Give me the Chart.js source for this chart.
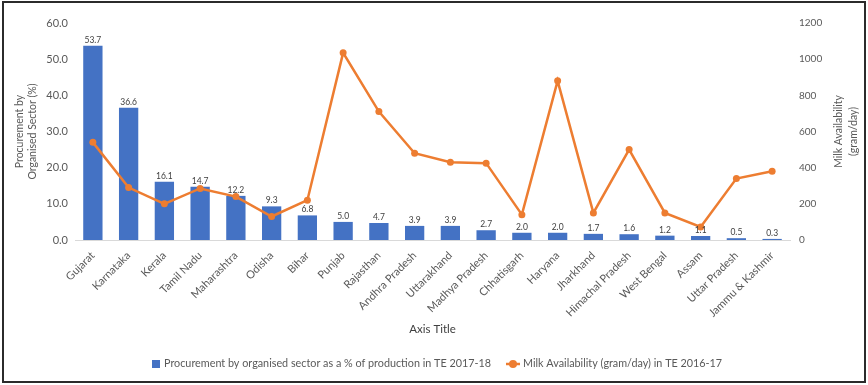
<!DOCTYPE html>
<html>
<head>
<meta charset="utf-8">
<script src="https://cdn.jsdelivr.net/npm/chart.js@4.4.1/dist/chart.umd.min.js"></script>
<style>
  html, body { margin: 0; padding: 0; background: #ffffff; }
  #wrap { position: relative; width: 868px; height: 385px; }
</style>
</head>
<body>
<div id="wrap"><canvas id="chart" width="868" height="385"></canvas></div>
<script>
// States, ordered by share of milk procured by the organised sector
const states = [
  'Gujarat', 'Karnataka', 'Kerala', 'Tamil Nadu', 'Maharashtra', 'Odisha', 'Bihar',
  'Punjab', 'Rajasthan', 'Andhra Pradesh', 'Uttarakhand', 'Madhya Pradesh',
  'Chhatisgarh', 'Haryana', 'Jharkhand', 'Himachal Pradesh', 'West Bengal',
  'Assam', 'Uttar Pradesh', 'Jammu & Kashmir'
];

// Procurement by organised sector as % of production, TE 2017-18
const procurementPct = [
  53.7, 36.6, 16.1, 14.7, 12.2, 9.3, 6.8, 5.0, 4.7, 3.9,
  3.9, 2.7, 2.0, 2.0, 1.7, 1.6, 1.2, 1.1, 0.5, 0.3
];

// Per-capita milk availability (gram/day), TE 2016-17
const milkAvailability = [
  540, 290, 200, 285, 240, 130, 220, 1035, 710, 480,
  430, 425, 140, 880, 150, 500, 150, 72, 340, 380
];

const leftTicks = [0, 10, 20, 30, 40, 50, 60];
const rightTicks = [0, 200, 400, 600, 800, 1000, 1200];

const leftTitle = ['Procurement by', 'Organised Sector (%)'];
const rightTitle = ['Milk Availability', '(gram/day)'];
const xTitle = 'Axis Title';
const seriesNames = [
  'Procurement by organised sector as a % of production in TE 2017-18',
  'Milk Availability (gram/day) in TE 2016-17'
];

const FONT = 'Lato, "Open Sans", sans-serif';
const GREY = '#595959';
const BLUE = '#4472C4';
const ORANGE = '#ED7D31';

// Value labels above each bar
const barLabels = {
  id: 'barLabels',
  afterDatasetsDraw(chart) {
    const meta = chart.getDatasetMeta(0);
    const ctx = chart.ctx;
    ctx.save();
    ctx.font = '8.5px ' + FONT;
    ctx.fillStyle = '#404040';
    ctx.textAlign = 'center';
    ctx.textBaseline = 'bottom';
    meta.data.forEach((bar, i) => {
      ctx.fillText(procurementPct[i].toFixed(1), bar.x, bar.y - 1.5);
    });
    ctx.restore();
  }
};

// Legend row under the axis title: square for the bars, line-and-dot for the line
const legendRow = {
  id: 'legendRow',
  afterDraw(chart) {
    const ctx = chart.ctx;
    const datasets = chart.data.datasets;
    const y = 364;
    ctx.save();
    ctx.font = '10.8px ' + FONT;
    ctx.textBaseline = 'middle';
    ctx.textAlign = 'left';
    const w1 = ctx.measureText(datasets[0].label).width;
    const w2 = ctx.measureText(datasets[1].label).width;
    const total = 8 + 4 + w1 + 15 + 14 + 3 + w2;
    let x = Math.round(437.5 - total / 2);
    ctx.fillStyle = datasets[0].backgroundColor;
    ctx.fillRect(x, y - 4, 8, 8);
    x += 12;
    ctx.fillStyle = GREY;
    ctx.fillText(datasets[0].label, x, y);
    x += w1 + 15;
    ctx.strokeStyle = datasets[1].borderColor;
    ctx.lineWidth = 2.5;
    ctx.beginPath(); ctx.moveTo(x, y); ctx.lineTo(x + 14, y); ctx.stroke();
    ctx.fillStyle = datasets[1].borderColor;
    ctx.beginPath(); ctx.arc(x + 7, y, 4, 0, Math.PI * 2); ctx.fill();
    x += 17;
    ctx.fillStyle = GREY;
    ctx.fillText(datasets[1].label, x, y);
    ctx.restore();
  }
};

// Right-hand axis title, read bottom to top, plus the frame round the chart
const frame = {
  id: 'frame',
  afterDraw(chart) {
    const ctx = chart.ctx;
    const area = chart.chartArea;
    const cy = (area.top + area.bottom) / 2;
    ctx.save();
    ctx.font = '10.5px ' + FONT;
    ctx.fillStyle = GREY;
    ctx.textAlign = 'center';
    ctx.textBaseline = 'middle';
    rightTitle.forEach((line, i) => {
      ctx.save();
      ctx.translate(839 + i * 15, cy);
      ctx.rotate(-Math.PI / 2);
      ctx.fillText(line, 0, 0);
      ctx.restore();
    });
    ctx.strokeStyle = '#2b2b2b';
    ctx.lineWidth = 2;
    ctx.strokeRect(3, 2, 862, 380);
    ctx.restore();
  }
};

new Chart(document.getElementById('chart'), {
  type: 'bar',
  data: {
    labels: states,
    datasets: [
      {
        type: 'bar',
        label: seriesNames[0],
        data: procurementPct,
        backgroundColor: BLUE,
        borderWidth: 0,
        yAxisID: 'yLeft',
        categoryPercentage: 1.0,
        barPercentage: 0.54,
        order: 1
      },
      {
        type: 'line',
        label: seriesNames[1],
        data: milkAvailability,
        borderColor: ORANGE,
        backgroundColor: ORANGE,
        borderWidth: 2.5,
        pointRadius: 3.5,
        pointBackgroundColor: ORANGE,
        pointBorderWidth: 0,
        tension: 0,
        yAxisID: 'yRight',
        order: 0
      }
    ]
  },
  options: {
    responsive: false,
    animation: false,
    layout: { padding: { left: 8, right: 6, top: 23, bottom: 43 } },
    plugins: {
      tooltip: { enabled: false },
      legend: { display: false }
    },
    scales: {
      x: {
        grid: { display: false, drawTicks: false },
        border: { display: true, color: '#d9d9d9', width: 1 },
        ticks: {
          autoSkip: false,
          minRotation: 45,
          maxRotation: 45,
          padding: 9,
          color: GREY,
          font: { family: FONT, size: 11 }
        },
        title: {
          display: true,
          text: xTitle,
          color: '#404040',
          font: { family: FONT, size: 11.5 },
          padding: { top: 0, bottom: 6 }
        },
        afterFit(scale) { scale.height = 102; }
      },
      yLeft: {
        position: 'left',
        min: leftTicks[0],
        max: leftTicks[leftTicks.length - 1],
        afterBuildTicks(scale) { scale.ticks = leftTicks.map(v => ({ value: v })); },
        grid: { display: false, drawTicks: false },
        border: { display: false },
        ticks: {
          padding: 7,
          color: GREY,
          font: { family: FONT, size: 11 },
          callback: v => Number(v).toFixed(1)
        },
        title: {
          display: true,
          text: leftTitle,
          color: GREY,
          font: { family: FONT, size: 10.5, lineHeight: 1.25 },
          padding: { top: 5, bottom: 0 }
        },
        afterFit(scale) { scale.width = 67; }
      },
      yRight: {
        position: 'right',
        min: rightTicks[0],
        max: rightTicks[rightTicks.length - 1],
        afterBuildTicks(scale) { scale.ticks = rightTicks.map(v => ({ value: v })); },
        grid: { display: false, drawTicks: false },
        border: { display: false },
        ticks: {
          padding: 9,
          color: GREY,
          font: { family: FONT, size: 10 },
          callback: v => String(v)
        },
        afterFit(scale) { scale.width = 72; }
      }
    }
  },
  plugins: [barLabels, legendRow, frame]
});
</script>
</body>
</html>
